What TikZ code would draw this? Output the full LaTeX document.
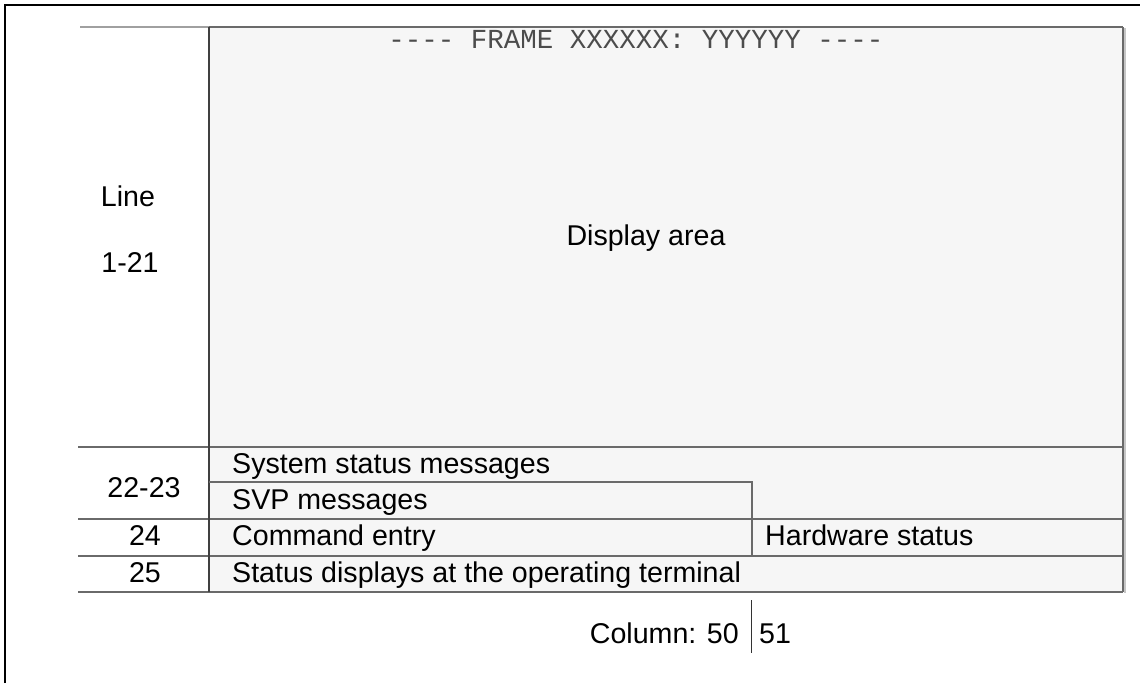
\documentclass[tikz,border=0pt]{standalone}
\usepackage{fontspec}
\setmainfont{Liberation Sans}
\newfontfamily\monofont{Liberation Mono}
\definecolor{boxfill}{HTML}{F6F6F6}
\definecolor{rulegray}{HTML}{6A6A6A}
\definecolor{lightrule}{HTML}{A0A0A0}
\begin{document}
\begin{tikzpicture}[x=1pt,y=-1pt,
  lbl/.style={inner sep=0pt,font=\fontsize{28.6}{34}\selectfont,text=black},
  rule/.style={draw=rulegray,line width=1.4pt},
  frameline/.style={draw=black,line width=1.4pt}]
\useasboundingbox (0,0) rectangle (1140,683);
% outer frame (clipped by image)
\draw[frameline] (5,683) -- (5,5) -- (1140,5);
% grey area
\fill[boxfill] (209,27) rectangle (1123,592);
% right edge with shadow
\draw[draw=lightrule!60,line width=1.4pt] (1125,28) -- (1125,593);
\draw[rule] (1123,27) -- (1123,592);
% top line
\draw[draw=lightrule,line width=1.4pt] (80,27) -- (209,27);
\draw[rule] (209,27) -- (1123,27);
% horizontal rules
\draw[rule] (78,447) -- (1123,447);
\draw[rule] (78,519) -- (1123,519);
\draw[rule] (78,556) -- (1123,556);
\draw[rule] (78,592) -- (1123,592);
% vertical divider
\draw[draw=black!75,line width=1.4pt] (209,27) -- (209,592);
% SVP box
\draw[rule] (209,482) -- (752,482) -- (752,556);
% column marker
\draw[draw=black!80,line width=1pt] (751,600) -- (751,653);
% texts
\node[lbl,anchor=base,font=\monofont\fontsize{27.5}{32}\selectfont,text=black!70] (title) at (636,48) {---- FRAME XXXXXX: YYYYYY ----};
\node[lbl,anchor=base] (line) at (128,206) {Line};
\node[lbl,anchor=base] (range) at (130,272) {1-21};
\node[lbl,anchor=base] (display) at (646,245) {Display area};
\node[lbl,anchor=base west] (sys) at (232,473) {System status messages};
\node[lbl,anchor=base] (l2223) at (144,497) {22-23};
\node[lbl,anchor=base west] (svp) at (232,509) {SVP messages};
\node[lbl,anchor=base] (l24) at (145,545) {24};
\node[lbl,anchor=base west] (cmd) at (232,545) {Command entry};
\node[lbl,anchor=base west] (hw) at (765,545) {Hardware status};
\node[lbl,anchor=base] (l25) at (145,582) {25};
\node[lbl,anchor=base west] (stat) at (232,582) {Status displays at the operating terminal};
\node[lbl,anchor=base east] (col) at (739,643) {Column: 50};
\node[lbl,anchor=base west] (c51) at (759,643) {51};
\end{tikzpicture}
\end{document}
